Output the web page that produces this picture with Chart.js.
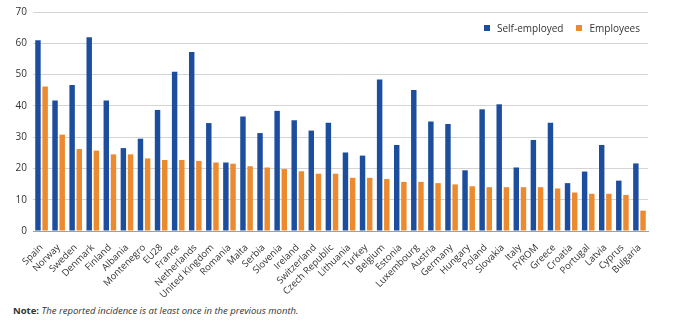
<!DOCTYPE html>
<html>
<head>
<meta charset="utf-8">
<script src="https://cdn.jsdelivr.net/npm/chart.js@4.4.0/dist/chart.umd.min.js"></script>
<style>
  html, body { margin: 0; padding: 0; background: #fff; }
  #wrap { position: relative; width: 700px; height: 300px; }
  #note { position: absolute; left: 13px; top: 304px; font-family: "Open Sans", sans-serif; font-size: 9.5px; color: #333; white-space: nowrap; }
  #note b { font-weight: 700; }
  #note i { font-style: italic; }
  #legend { position: absolute; top: 20px; left: 484px; font-family: "Open Sans", sans-serif; font-size: 10px; color: #333; white-space: nowrap; }
  #legend span.item { display: inline-flex; align-items: center; margin-right: 13px; }
  #legend span.sw { display: inline-block; width: 6px; height: 6px; margin-right: 7px; }
</style>
</head>
<body>
<div id="wrap"><canvas id="c" width="700" height="300"></canvas></div>
<div id="legend"></div>
<div id="note"><b>Note:</b> <i>The reported incidence is at least once in the previous month.</i></div>
<script>
const categories = ["Spain","Norway","Sweden","Denmark","Finland","Albania","Montenegro","EU28","France","Netherlands","United Kingdom","Romania","Malta","Serbia","Slovenia","Ireland","Switzerland","Czech Republic","Lithuania","Turkey","Belgium","Estonia","Luxembourg","Austria","Germany","Hungary","Poland","Slovakia","Italy","FYROM","Greece","Croatia","Portugal","Latvia","Cyprus","Bulgaria"];
const selfEmployed = [61.0,41.7,46.7,61.9,41.7,26.5,29.5,38.7,50.9,57.2,34.5,21.9,36.6,31.3,38.4,35.4,32.1,34.6,25.1,24.1,48.4,27.5,45.1,35.0,34.2,19.4,38.9,40.5,20.3,29.1,34.6,15.3,19.0,27.5,16.1,21.6];
const employees = [46.2,30.8,26.2,25.7,24.5,24.5,23.2,22.7,22.7,22.4,21.9,21.5,20.7,20.3,19.8,19.1,18.3,18.3,17.0,17.0,16.6,15.7,15.7,15.3,14.9,14.3,14.0,14.0,14.0,14.0,13.6,12.3,11.9,11.9,11.5,6.5];
const yTicks = [0,10,20,30,40,50,60,70];
const seriesNames = ["Self-employed","Employees"];
const seriesColors = ['#1d4e9e', '#ec8a30'];

const FONT = "'Open Sans', sans-serif";
const chart = new Chart(document.getElementById('c'), {
  type: 'bar',
  data: {
    labels: categories,
    datasets: [
      { label: seriesNames[0], data: selfEmployed, backgroundColor: seriesColors[0], categoryPercentage: 0.84, barPercentage: 0.76 },
      { label: seriesNames[1], data: employees, backgroundColor: seriesColors[1], categoryPercentage: 0.84, barPercentage: 0.76 }
    ]
  },
  options: {
    responsive: false,
    animation: false,
    layout: { padding: { top: 6, right: 52, left: 0, bottom: 0 } },
    plugins: {
      tooltip: { enabled: false },
      legend: { display: false }
    },
    scales: {
      x: {
        grid: { display: false },
        border: { display: true, color: '#a0a0a0' },
        ticks: { maxRotation: 45, minRotation: 45, autoSkip: false, color: '#333', padding: 3, font: { family: FONT, size: 9.5 } },
        afterFit: (s) => { s.height = 69; }
      },
      y: {
        min: 0, max: 70,
        afterBuildTicks: (s) => { s.ticks = yTicks.map(v => ({ value: v })); },
        grid: { color: '#d4d4d4', drawTicks: false },
        border: { display: false },
        ticks: { color: '#333', padding: 6, font: { family: FONT, size: 10 } },
        afterFit: (s) => { s.width = 33; }
      }
    }
  }
});

const leg = document.getElementById('legend');
chart.data.datasets.forEach((ds) => {
  const item = document.createElement('span');
  item.className = 'item';
  const sw = document.createElement('span');
  sw.className = 'sw';
  sw.style.background = ds.backgroundColor;
  item.appendChild(sw);
  item.appendChild(document.createTextNode(ds.label));
  leg.appendChild(item);
});
</script>
</body>
</html>
